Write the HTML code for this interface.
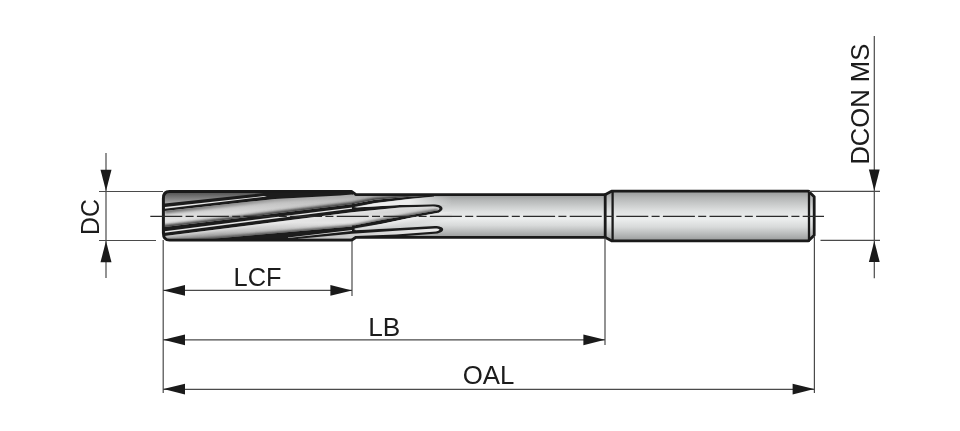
<!DOCTYPE html>
<html>
<head>
<meta charset="utf-8">
<title>Reamer dimensions</title>
<style>
html,body{margin:0;padding:0;background:#fff;}
body{width:960px;height:431px;overflow:hidden;font-family:"Liberation Sans",sans-serif;}
svg{display:block;position:absolute;left:0;top:0;filter:blur(0.45px);}
text{font-family:"Liberation Sans",sans-serif;font-size:25.8px;fill:#1c1c1c;}
</style>
</head>
<body>
<svg width="960" height="431" viewBox="0 0 960 431">
<defs>
  <linearGradient id="gBody" x1="0" y1="0" x2="0" y2="1">
    <stop offset="0" stop-color="#989a9a"/>
    <stop offset="0.14" stop-color="#b6b8b8"/>
    <stop offset="0.4" stop-color="#dfe1e1"/>
    <stop offset="0.56" stop-color="#eceeee"/>
    <stop offset="0.72" stop-color="#d8dada"/>
    <stop offset="0.9" stop-color="#b0b2b2"/>
    <stop offset="1" stop-color="#989a9a"/>
  </linearGradient>
  <linearGradient id="gWedge" x1="0" y1="0" x2="0" y2="1">
    <stop offset="0" stop-color="#555"/>
    <stop offset="1" stop-color="#a8a8a8"/>
  </linearGradient>

  <linearGradient id="gCyl" gradientUnits="userSpaceOnUse" x1="0" y1="192" x2="0" y2="240">
    <stop offset="0" stop-color="#9e9e9e"/>
    <stop offset="0.2" stop-color="#c2c2c2"/>
    <stop offset="0.5" stop-color="#dedede"/>
    <stop offset="0.64" stop-color="#e4e4e4"/>
    <stop offset="0.82" stop-color="#c0c0c0"/>
    <stop offset="1" stop-color="#8c8c8c"/>
  </linearGradient>
  <linearGradient id="gShTop" gradientUnits="userSpaceOnUse" x1="164" y1="0" x2="330" y2="0">
    <stop offset="0" stop-color="#6a6a6a"/>
    <stop offset="0.5" stop-color="#7a7a7a" stop-opacity="0.7"/>
    <stop offset="1" stop-color="#8a8a8a" stop-opacity="0"/>
  </linearGradient>
  <linearGradient id="gFadeR" gradientUnits="userSpaceOnUse" x1="356" y1="0" x2="452" y2="0">
    <stop offset="0" stop-color="#f0f0f0"/>
    <stop offset="0.55" stop-color="#ececec"/>
    <stop offset="1" stop-color="#e4e6e6" stop-opacity="0"/>
  </linearGradient>
  <linearGradient id="gFadeD" gradientUnits="userSpaceOnUse" x1="400" y1="219" x2="401.6" y2="228">
    <stop offset="0" stop-color="#f4f4f4"/>
    <stop offset="0.45" stop-color="#e0e0e0" stop-opacity="0.6"/>
    <stop offset="1" stop-color="#bdbdbd" stop-opacity="0"/>
  </linearGradient>
  <linearGradient id="gLeaf2" gradientUnits="userSpaceOnUse" x1="296" y1="0" x2="442" y2="0">
    <stop offset="0" stop-color="#b8b8b8"/>
    <stop offset="0.4" stop-color="#cfcfcf"/>
    <stop offset="1" stop-color="#ececec"/>
  </linearGradient>
  <filter id="bl15" x="-5%" y="-50%" width="110%" height="200%"><feGaussianBlur stdDeviation="1.5"/></filter>
  <filter id="bl2" x="-5%" y="-50%" width="110%" height="200%"><feGaussianBlur stdDeviation="2"/></filter>
  <filter id="bl25" x="-5%" y="-50%" width="110%" height="200%"><feGaussianBlur stdDeviation="2.5"/></filter>
  <clipPath id="cAB">
    <path d="M164.6,211 L275,199 L340,195.4 L352,194.4 L356,195.6 H434 L410,196.8 L375,199.8 L352,204.2 L275,213.6 L240,218 L164.6,227 Z"/>
  </clipPath>
  <clipPath id="cBC">
    <path d="M164.6,236 L275,222 L352,212.2 L400,207.6 L433,206.5 C439.5,206.6 441.5,209 437,210.6 L409.6,215.2 L381.8,220 L354,225.4 L352,226.6 L207,239.2 H165.6 Z"/>
  </clipPath>
</defs>
<rect width="960" height="431" fill="#fff"/>

<!-- ============ TOOL BODY ============ -->
<g id="tool">
  <!-- neck -->
  <rect x="354" y="194.6" width="254" height="42.8" fill="url(#gBody)"/>
  <!-- shank -->
  <path d="M605,194.6 L611.5,191.2 H808.5 L814,196.5 V235.5 L808.5,240.8 H611.5 L605,237.4 Z" fill="url(#gBody)"/>
  <!-- cutting part base -->
  
</g>


<!-- ============ FLUTES ============ -->
<g id="flutes">
  <!-- dark base of the cutting part -->
  <path d="M163.3,198.5 C163.3,194 165.5,191.5 169.5,191.5 H352 L353,192.5 V239.4 L352,240.2 H169.5 C165.5,240.2 163.3,237.5 163.3,233 Z" fill="#1c1c1c"/>
  <!-- black leaf outlines in the neck -->
  <path d="M352.5,207.4 L400,204.9 L433,204.3 C442.5,204.4 446,209 438.6,212.9 L409.6,218 L381.8,223.8 L354,228.6 L352.5,228.8 Z" fill="#1c1c1c"/>
  <path d="M352.5,230.2 L400,227.9 L435,226 C444.6,226 446.2,231.4 437.6,233.5 L396,236.8 L356,238 L352.5,238 Z" fill="#1c1c1c"/>
  <!-- upper run-out line -->
  <path d="M352,204 L375,199.7 L410,196.6 L434,195.2 V196.4 L410,198.8 L375,203 L354,206.9 L352,207 Z" fill="#1c1c1c"/>

  <!-- top wedge -->
  <path d="M164.6,192.6 H268 L164.6,203.4 Z" fill="url(#gWedge)"/>
  <!-- flute A highlight -->
  <path d="M164.8,207.1 L264,196.1 L267,196.5 L164.8,208.7 Z" fill="#e8e8e8"/>

  <!-- band A-B (continues into the neck) -->
  <g clip-path="url(#cAB)">
    <rect x="160" y="190" width="280" height="45" fill="url(#gCyl)"/>
    <path d="M164.6,211 L275,199 L340,195.4 L356,194.6 H436" fill="none" stroke="url(#gShTop)" stroke-width="5" filter="url(#bl15)"/>
    <path d="M160,227.6 L240,218 L275,213.6 L352,204.2 L375,199.8 L410,196.8 L436,195.2" fill="none" stroke="#2e2e2e" stroke-width="4" filter="url(#bl15)"/>
  </g>
  <!-- flute B highlight -->
  <path d="M164.8,231.2 L352,207.4 V208.8 L164.8,232.8 Z" fill="#e8e8e8"/>
  <!-- light wedge between run-out line and leaf 1 -->
  <path d="M356,207.3 L375,203.3 L410,199 L434,196.7 H452 V205.6 L433,204.5 L400,205 L356,207.6 Z" fill="url(#gFadeR)"/>

  <!-- band B-C + leaf 1 interior -->
  <g clip-path="url(#cBC)">
    <rect x="160" y="200" width="290" height="42" fill="url(#gCyl)"/>
    <path d="M164.6,236 L275,222 L352,212.2 L400,207.6 L433,206.6 L442,207" fill="none" stroke="#f2f2f2" stroke-width="3" filter="url(#bl15)" opacity="0.6"/>
    <path d="M160,243 L207,239.6 L352,227 L381.8,220.6 L409.6,215.6 L438,211" fill="none" stroke="#444" stroke-width="3.5" filter="url(#bl15)"/>
  </g>
  <!-- flute C highlight -->
  <path d="M288,237.5 L352,230 V231.1 L288,238 Z" fill="#dedede"/>
  <!-- light wedge between leaf 1 and leaf 2 -->
  <path d="M356,229.2 L381.8,224 L409.6,218 L438,212.8 L452,212 V227 L436,226.1 L400,228 L356,230.2 Z" fill="url(#gFadeD)"/>
  <!-- lowest wedge + leaf 2 interior -->
  <path d="M296,239 L352,233.8 L400,230.6 L435,228.6 C440.3,228.6 441.3,230.6 436,231.4 L396,234.4 L356,236 L352,238.8 Z" fill="url(#gLeaf2)"/>

  <!-- step ticks -->
  <path d="M352.2,203.6 H354.6 V211.4 H352.2 Z M352.2,225.6 H354.6 V232 H352.2 Z" fill="#1c1c1c"/>
</g>

<!-- ============ OUTLINES ============ -->
<g fill="none" stroke="#1a1a1a" stroke-width="2.8" stroke-linejoin="round" stroke-linecap="round">
  <path d="M163.3,198.5 C163.3,194 165.5,191.5 169.5,191.5 H351.5 L356,194.7 H605 L611.5,191.2 H808.5 L814.2,196.8 V235.2 L808.5,240.8 H611.5 L605,237.3 H356 L351.5,240.2 H169.5 C165.5,240.2 163.3,237.5 163.3,233 Z"/>
  <path d="M605.2,194.6 V237.4"/>
  <path d="M612.6,191.2 V240.8" stroke-width="2.3"/>
  <path d="M809,191.2 V240.8" stroke-width="2.3"/>
</g>

<!-- ============ DIMENSIONS ============ -->
<g fill="none" stroke="#4a4a4a" stroke-width="1.2">
  <!-- centre line -->
  <path d="M150.3,216.4 H824" stroke-dasharray="32,3.3,8,3.3" stroke="#2a2a2a" stroke-width="1.2"/>
  <!-- DC -->
  <path d="M106,153 V278"/>
  <path d="M99,191.5 H163"/>
  <path d="M99,240.5 H156"/>
  <!-- DCON MS -->
  <path d="M874.3,36 V278.3"/>
  <path d="M809,191.3 H880"/>
  <path d="M820.5,240.4 H880"/>
  <!-- extension lines down -->
  <path d="M163.2,240 V393"/>
  <path d="M352,241 V296"/>
  <path d="M605,238 V345"/>
  <path d="M814.4,236 V393"/>
  <!-- dimension lines -->
  <path d="M163,290.3 H352"/>
  <path d="M163,339.8 H605"/>
  <path d="M163,389.3 H814"/>
</g>
<g fill="#1a1a1a" stroke="none">
  <!-- DC arrows -->
  <path d="M106,191 L100.5,169.8 H111.5 Z"/>
  <path d="M106,241 L100.5,262.2 H111.5 Z"/>
  <!-- DCON arrows -->
  <path d="M874.3,190.8 L868.9,169.6 H879.7 Z"/>
  <path d="M874.3,241 L868.9,262 H879.7 Z"/>
  <!-- LCF -->
  <path d="M163.4,290.4 L185,285 V295.8 Z"/>
  <path d="M352,290.4 L330.4,285 V295.8 Z"/>
  <!-- LB -->
  <path d="M163.4,339.8 L185,334.4 V345.2 Z"/>
  <path d="M605,339.8 L583.4,334.4 V345.2 Z"/>
  <!-- OAL -->
  <path d="M163.4,389.1 L185,383.7 V394.5 Z"/>
  <path d="M814.2,389.1 L792.6,383.7 V394.5 Z"/>
</g>

<!-- ============ LABELS ============ -->
<text transform="translate(257.5,285.9) scale(0.985,1)" text-anchor="middle">LCF</text>
<text transform="translate(384.3,335.6) scale(1.016,1)" text-anchor="middle">LB</text>
<text x="488.5" y="383.8" text-anchor="middle">OAL</text>
<text transform="translate(99.3,217) rotate(-90) scale(0.965,1)" text-anchor="middle">DC</text>
<text transform="translate(868.6,104.2) rotate(-90) scale(0.992,1)" text-anchor="middle">DCON MS</text>
</svg>
</body>
</html>
